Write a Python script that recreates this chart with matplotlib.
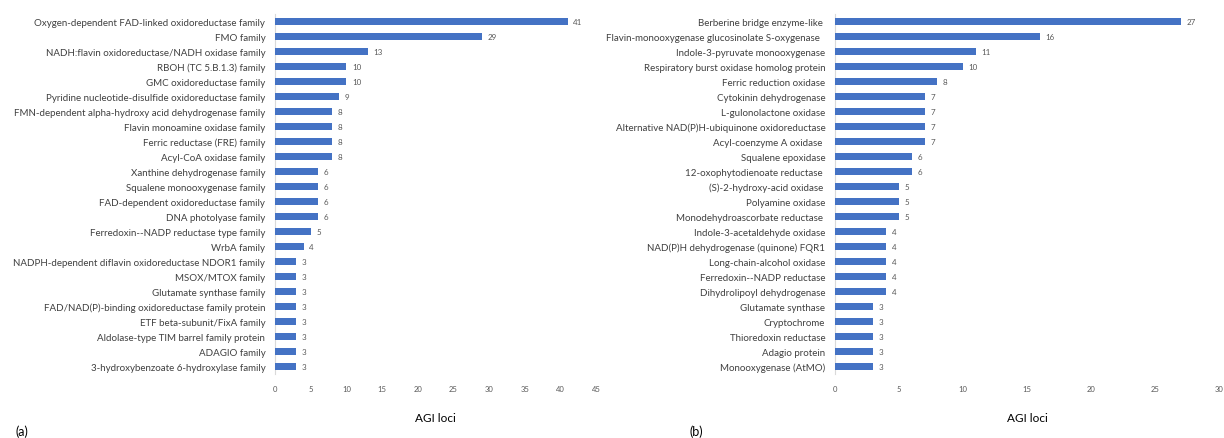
import matplotlib
matplotlib.use("Agg")
import matplotlib.pyplot as plt

plt.rcParams["font.family"] = ["Lato", "DejaVu Sans"]

# (a) protein families
fam_labels = [
    "Oxygen-dependent FAD-linked oxidoreductase family",
    "FMO family",
    "NADH:flavin oxidoreductase/NADH oxidase family",
    "RBOH (TC 5.B.1.3) family",
    "GMC oxidoreductase family",
    "Pyridine nucleotide-disulfide oxidoreductase family",
    "FMN-dependent alpha-hydroxy acid dehydrogenase family",
    "Flavin monoamine oxidase family",
    "Ferric reductase (FRE) family",
    "Acyl-CoA oxidase family",
    "Xanthine dehydrogenase family",
    "Squalene monooxygenase family",
    "FAD-dependent oxidoreductase family",
    "DNA photolyase family",
    "Ferredoxin--NADP reductase type family",
    "WrbA family",
    "NADPH-dependent diflavin oxidoreductase NDOR1 family",
    "MSOX/MTOX family",
    "Glutamate synthase family",
    "FAD/NAD(P)-binding oxidoreductase family protein",
    "ETF beta-subunit/FixA family",
    "Aldolase-type TIM barrel family protein",
    "ADAGIO family",
    "3-hydroxybenzoate 6-hydroxylase family",
]
fam_counts = [41, 29, 13, 10, 10, 9, 8, 8, 8, 8, 6, 6, 6, 6, 5, 4, 3, 3, 3, 3, 3, 3, 3, 3]

# (b) enzyme names
enz_labels = [
    "Berberine bridge enzyme-like ",
    "Flavin-monooxygenase glucosinolate S-oxygenase  ",
    "Indole-3-pyruvate monooxygenase",
    "Respiratory burst oxidase homolog protein",
    "Ferric reduction oxidase",
    "Cytokinin dehydrogenase",
    "L-gulonolactone oxidase",
    "Alternative NAD(P)H-ubiquinone oxidoreductase",
    "Acyl-coenzyme A oxidase ",
    "Squalene epoxidase",
    "12-oxophytodienoate reductase ",
    "(S)-2-hydroxy-acid oxidase ",
    "Polyamine oxidase",
    "Monodehydroascorbate reductase ",
    "Indole-3-acetaldehyde oxidase",
    "NAD(P)H dehydrogenase (quinone) FQR1",
    "Long-chain-alcohol oxidase",
    "Ferredoxin--NADP reductase",
    "Dihydrolipoyl dehydrogenase",
    "Glutamate synthase",
    "Cryptochrome",
    "Thioredoxin reductase",
    "Adagio protein",
    "Monooxygenase (AtMO)",
]
enz_counts = [27, 16, 11, 10, 8, 7, 7, 7, 7, 6, 6, 5, 5, 5, 4, 4, 4, 4, 4, 3, 3, 3, 3, 3]

BAR = "#4472C4"
GREY = "#595959"
AXIS = "#D9D9D9"


def draw_panel(ax, labels, values, xmax):
    pos = list(range(len(labels)))
    ax.barh(pos, values, height=0.5, color=BAR, zorder=3)
    for p, v in zip(pos, values):
        ax.annotate(str(v), xy=(v, p), xytext=(4, 0), textcoords="offset points",
                    va="center", ha="left", fontsize=5.8, color=GREY)
    ax.set_ylim(len(labels) - 0.5, -0.5)
    ax.set_xlim(0, xmax)
    ax.set_xticks(range(0, xmax + 1, 5))
    ax.set_yticks(pos)
    ax.set_yticklabels(labels, fontsize=7.0, color="#404040")
    ax.tick_params(axis="y", length=0, pad=7)
    ax.tick_params(axis="x", length=0, pad=8, labelsize=5.5, labelcolor=GREY)
    for s in ("top", "right", "bottom"):
        ax.spines[s].set_visible(False)
    ax.spines["left"].set_color(AXIS)
    ax.spines["left"].set_linewidth(0.8)
    ax.set_xlabel("AGI loci", fontsize=8.5, color="#000000", labelpad=14)


fig = plt.figure(figsize=(12.24, 4.39), dpi=100)
ax_a = fig.add_axes([0.2247, 0.1458, 0.2623, 0.8200])
ax_b = fig.add_axes([0.6822, 0.1458, 0.3137, 0.8200])

draw_panel(ax_a, fam_labels, fam_counts, 45)
draw_panel(ax_b, enz_labels, enz_counts, 30)

fig.text(15 / 1224, 1 - 432 / 439, "(a)", fontsize=9, va="center", ha="left")
fig.text(690 / 1224, 1 - 432 / 439, "(b)", fontsize=9, va="center", ha="left")

fig.savefig("out.png", dpi=100, facecolor="white")
